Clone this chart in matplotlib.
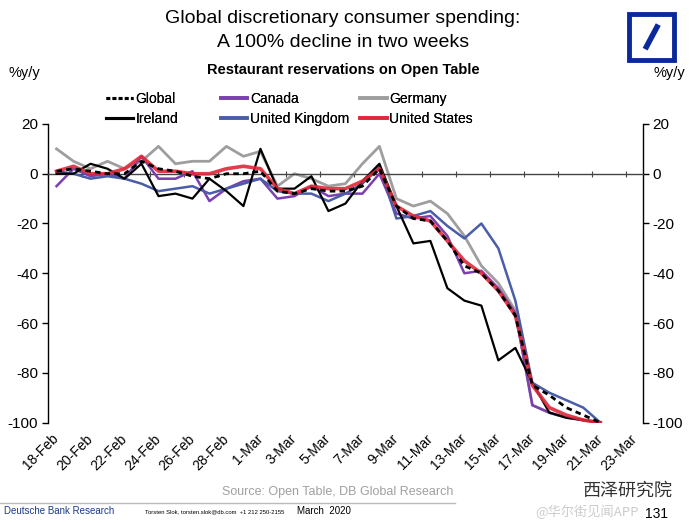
import matplotlib
matplotlib.use("Agg")
import matplotlib.pyplot as plt
import numpy as np
from matplotlib.lines import Line2D
from matplotlib.patches import Rectangle

plt.rcParams["font.family"] = ["Liberation Sans", "DejaVu Sans"]
plt.rcParams["axes.unicode_minus"] = False

# 类别：2020-02-18 ~ 2020-03-23，每日一个
DAYS = [f"{d}-Feb" for d in range(18, 30)] + [f"{d}-Mar" for d in range(1, 24)]
TICK_LABELS = DAYS[::2]

# 各国 Open Table 餐厅预订 %y/y（18-Feb ~ 21-Mar）
GLOBAL = [1, 2, 1, 0, 0, 5, 2, 1, -1, -2, 0, 0, 1, -7, -8, -6, -7, -7, -5, 2,
          -13, -18, -19, -27, -37, -40, -47, -57, -85, -89, -94, -97, -100]
CANADA = [-5, 2, -1, 0, -2, 7, -2, -2, 1, -11, -6, -3, -2, -10, -9, -5, -9, -8, -8, 0,
          -16, -18, -17, -25, -40, -39, -46, -56, -93, -96, -98, -99, -100]
GERMANY = [10, 5, 2, 5, 2, 5, 11, 4, 5, 5, 11, 7, 9, -5, 0, -2, -5, -4, 4, 11,
           -10, -13, -11, -16, -25, -37, -44, -55, -93, -96, -98, -99, -100]
IRELAND = [0, 0, 4, 2, -2, 4, -9, -8, -10, -2, -7, -13, 10, -6, -6, -1, -15, -12, -3, 4,
           -13, -28, -27, -46, -51, -53, -75, -70, -84, -96, -98, -99, -100]
UK = [1, 0, -2, -1, -2, -4, -7, -6, -5, -8, -6, -4, -2, -7, -8, -8, -11, -8, -4, 3,
      -18, -17, -15, -21, -26, -20, -30, -51, -84, -88, -91, -94, -100]
US = [1, 3, 0, 0, 2, 7, 1, 1, 0, 0, 2, 3, 2, -6, -8, -5, -6, -6, -3, 2,
      -13, -17, -19, -27, -35, -40, -47, -57, -85, -94, -97, -99, -100]

C_CANADA = "#7B3FB0"
C_GERMANY = "#9E9E9E"
C_UK = "#4A5DA8"
C_US = "#E0283A"

fig = plt.figure(figsize=(6.9, 5.23), dpi=100)
ax = fig.add_axes([0.0696, 0.192, 0.862, 0.571])

x = np.arange(len(GLOBAL))
ax.plot(x, GERMANY, color=C_GERMANY, lw=2.0, zorder=2)
ax.plot(x, CANADA, color=C_CANADA, lw=1.8, zorder=3)
ax.plot(x, UK, color=C_UK, lw=1.8, zorder=3)
ax.plot(x, IRELAND, color="black", lw=1.6, zorder=4)
ax.plot(x, US, color=C_US, lw=2.6, alpha=0.9, zorder=5)
ax.plot(x, GLOBAL, color="black", lw=2.0, ls=(0, (2, 1.5)), zorder=6)

ax.set_xlim(-0.5, len(DAYS) - 0.5)
ax.set_ylim(-100, 20)
ax.set_yticks(range(-100, 21, 20))

# y 轴：左右都显示
ax.tick_params(axis="y", left=True, right=True, labelleft=True, labelright=True,
               direction="out", length=4, width=1, labelsize=11, pad=3)
for s in ("left", "right"):
    ax.spines[s].set_linewidth(1)
ax.spines["top"].set_visible(False)

# 零线当作 x 轴，刻度线在类别分界
ax.spines["bottom"].set_position(("data", 0))
ax.spines["bottom"].set_color("#444444")
ax.spines["bottom"].set_linewidth(1)
ax.set_xticks(np.arange(-0.5, len(DAYS), 2))
ax.tick_params(axis="x", direction="inout", length=5, width=0.8, color="#444444", labelbottom=False)

# 日期标签放在底部
sec = ax.secondary_xaxis(0.0)
sec.set_xticks(np.arange(0, len(DAYS), 2))
sec.set_xticklabels(TICK_LABELS, rotation=45, ha="right", va="center", rotation_mode="anchor", fontsize=10)
sec.tick_params(axis="x", length=0, pad=10)
sec.spines["bottom"].set_visible(False)

# 图例：三列
col_x = [0.154, 0.320, 0.522]
entries = [
    [(Line2D([], [], color="black", lw=2.2, ls=(0, (1.2, 0.8))), "Global"),
     (Line2D([], [], color="black", lw=2.2), "Ireland")],
    [(Line2D([], [], color=C_CANADA, lw=2.6), "Canada"),
     (Line2D([], [], color=C_UK, lw=2.6), "United Kingdom")],
    [(Line2D([], [], color=C_GERMANY, lw=2.6), "Germany"),
     (Line2D([], [], color=C_US, lw=2.6), "United States")],
]
for cx, col in zip(col_x, entries):
    leg = fig.legend([h for h, _ in col], [t for _, t in col], loc="upper left",
                     bbox_to_anchor=(cx, 0.824), frameon=False, fontsize=10,
                     handlelength=1.9, handletextpad=0.2, labelspacing=0.4,
                     borderpad=0, borderaxespad=0)
    fig.add_artist(leg)

# 标题
fig.text(0.497, 0.965, "Global discretionary consumer spending:", ha="center", va="center", fontsize=14)
fig.text(0.497, 0.919, "A 100% decline in two weeks", ha="center", va="center", fontsize=14)
fig.text(0.497, 0.866, "Restaurant reservations on Open Table", ha="center", va="center",
         fontsize=10.5, fontweight="bold")
fig.text(0.012, 0.860, "%y/y", ha="left", va="center", fontsize=10.5)
fig.text(0.993, 0.860, "%y/y", ha="right", va="center", fontsize=10.5)

# DB 标志
fig.add_artist(Rectangle((0.912, 0.886), 0.065, 0.088, transform=fig.transFigure,
                         fill=False, edgecolor="#0A2A9C", lw=3.5))
fig.add_artist(Line2D([0.935, 0.954], [0.906, 0.953], transform=fig.transFigure,
                      color="#0A2A9C", lw=4.0, solid_capstyle="butt"))

# 底部
fig.text(0.49, 0.059, "Source: Open Table, DB Global Research", ha="center", va="center",
         fontsize=9, color="#A0A0A0")
fig.add_artist(Line2D([0.0, 0.66], [0.038, 0.038], transform=fig.transFigure, color="#BBBBBB", lw=1))
fig.text(0.006, 0.022, "Deutsche Bank Research", ha="left", va="center", fontsize=7, color="#1A3A8A")
fig.text(0.21, 0.022, "Torsten Slok, torsten.slok@db.com  +1 212 250-2155", ha="left", va="center", fontsize=4.2)
fig.text(0.43, 0.022, "March  2020", ha="left", va="center", fontsize=7)
fig.text(0.935, 0.018, "131", ha="left", va="center", fontsize=10)

# 水印
fig.text(0.845, 0.062, "西泽研究院", ha="left", va="center", fontsize=13,
         family=["Noto Sans CJK SC", "DejaVu Sans"], color="#333333")
fig.text(0.775, 0.022, "@华尔街见闻APP", ha="left", va="center", fontsize=9.5,
         family=["Noto Sans CJK SC", "DejaVu Sans"], color="#CCCCCC")

fig.savefig("out.png", dpi=100)
